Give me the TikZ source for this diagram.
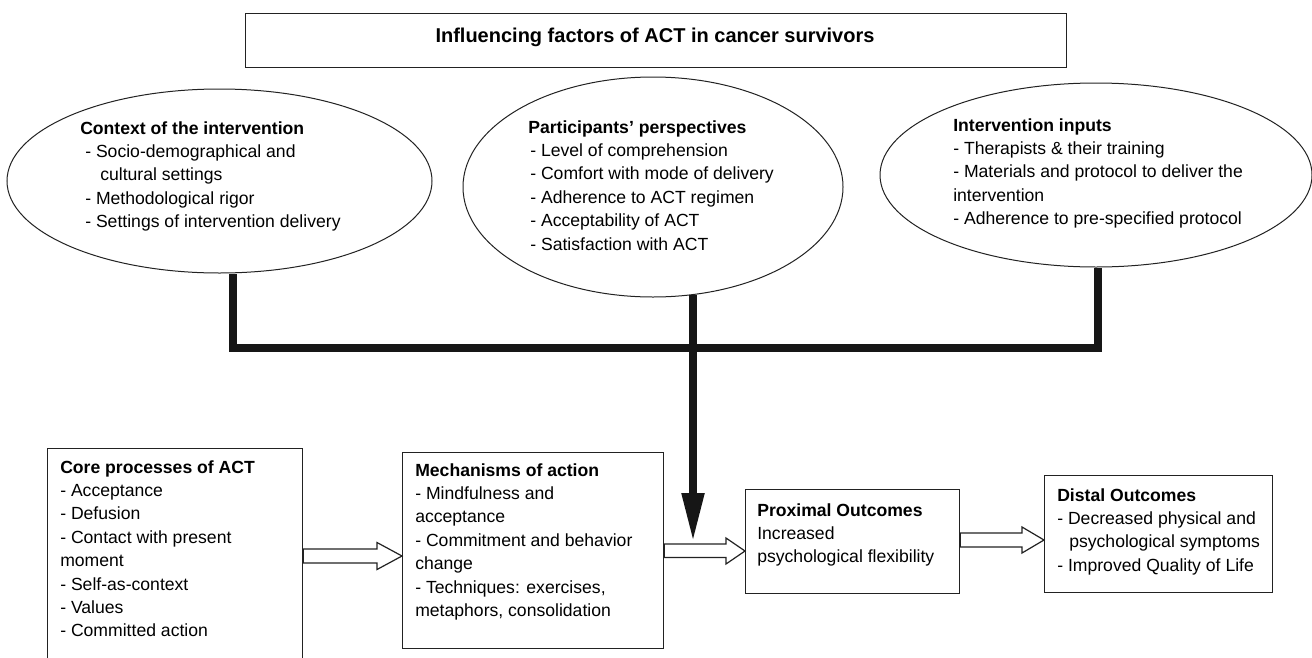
\documentclass[tikz,border=0pt]{standalone}
\usepackage{fontspec}
\setmainfont{Liberation Sans}
\usetikzlibrary{shapes.geometric,arrows.meta,calc}
\definecolor{ink}{HTML}{222222}
\definecolor{heavy}{HTML}{161616}
\newcommand{\bodyfont}{\fontsize{13.2}{17.55}\selectfont}
\newcommand{\titlefont}{\fontsize{15}{18}\selectfont\bfseries}
\newcommand{\ind}[1]{\hspace*{#1}}
\begin{document}
\begin{tikzpicture}[x=0.75pt,y=-0.75pt,
  box/.style={draw=ink, line width=0.9pt, inner sep=0, anchor=north west},
  oval/.style={ellipse, draw=ink, line width=0.75pt, inner sep=0},
  txt/.style={anchor=base west, inner sep=0, font=\bodyfont},
  heavyline/.style={draw=heavy, line width=6pt, line join=miter},
  blockarr/.style={draw=ink, line width=0.9pt, fill=white, line join=miter}]
\useasboundingbox (0,0) rectangle (1312,657);
\clip (0,0) rectangle (1312,657);
\fill[white] (0,0) rectangle (1312,657);

% title
\node[box, minimum width=615.75pt, minimum height=40.5pt] (tbox) at (245,13) {};
\node[anchor=base, inner sep=0, font=\titlefont] (ttl) at (655,42) {Influencing factors of ACT in cancer survivors};

% ellipses
\node[oval, minimum width=318.75pt, minimum height=138pt] (ctx) at (219.5,181) {};
\node[oval, minimum width=285pt, minimum height=165pt] (mid) at (653,187) {};
\node[oval, minimum width=324pt, minimum height=138pt] (inp) at (1096,175) {};

\node[txt] (ctxtext) at (80,134) {\begin{tabular}[t]{@{}l@{}}
\textbf{Context of the intervention}\\
\ind{3.75pt}- Socio-demographical and\\
\ind{15pt}cultural settings\\
\ind{3.75pt}- Methodological rigor\\
\ind{3.75pt}- Settings of intervention delivery
\end{tabular}};

\node[txt] (midtext) at (528,133) {\begin{tabular}[t]{@{}l@{}}
\textbf{Participants’ perspectives}\\
\ind{1.5pt}- Level of comprehension\\
\ind{1.5pt}- Comfort with mode of delivery\\
\ind{1.5pt}- Adherence to ACT regimen\\
\ind{1.5pt}- Acceptability of ACT\\
\ind{1.5pt}- Satisfaction with ACT
\end{tabular}};

\node[txt] (inptext) at (953,131) {\begin{tabular}[t]{@{}l@{}}
\textbf{Intervention inputs}\\
- Therapists \& their training\\
- Materials and protocol to deliver the\\
intervention\\
- Adherence to pre-specified protocol
\end{tabular}};

% boxes
\node[box, minimum width=191.25pt, minimum height=220pt] (core) at (47,448) {};
\node[box, minimum width=195.75pt, minimum height=147pt] (mech) at (402,452) {};
\node[box, minimum width=160.5pt, minimum height=78pt] (prox) at (745,489) {};
\node[box, minimum width=171pt, minimum height=87.75pt] (dist) at (1044,475) {};

\node[txt] (coretext) at (60,473) {\begin{tabular}[t]{@{}l@{}}
\textbf{Core processes of ACT}\\
- Acceptance\\
- Defusion\\
- Contact with present\\
moment\\
- Self-as-context\\
- Values\\
- Committed action
\end{tabular}};

\node[txt] (mechtext) at (415,476) {\begin{tabular}[t]{@{}l@{}}
\textbf{Mechanisms of action}\\
- Mindfulness and\\
acceptance\\
- Commitment and behavior\\
change\\
- Techniques: exercises,\\
metaphors, consolidation
\end{tabular}};

\node[txt] (proxtext) at (757,516) {\begin{tabular}[t]{@{}l@{}}
\textbf{Proximal Outcomes}\\
Increased\\
psychological flexibility
\end{tabular}};

\node[txt] (disttext) at (1057,501) {\begin{tabular}[t]{@{}l@{}}
\textbf{Distal Outcomes}\\
- Decreased physical and\\
\ind{9pt}psychological symptoms\\
- Improved Quality of Life
\end{tabular}};

% heavy connectors
\coordinate (jl) at (233,348);
\coordinate (jr) at (1098,348);
\coordinate (tip) at (693,542);
\draw[heavyline] (ctx.south -| jl) -- (jl) -- (jr) -- (inp.south -| jr);
\draw[heavyline, -{Triangle[length=36.75pt,width=15.75pt]}] (693,295) -- (tip);

% block arrows
\draw[blockarr] (core.east |- 0,549) -- (377,549) -- (377,542.5) -- (mech.west |- 0,556)
  -- (377,569.5) -- (377,563) -- (core.east |- 0,563) -- cycle;
\draw[blockarr] (mech.east |- 0,544) -- (726,544) -- (726,538) -- (prox.west |- 0,551)
  -- (726,564) -- (726,557.5) -- (mech.east |- 0,557.5) -- cycle;
\draw[blockarr] (prox.east |- 0,533) -- (1022,533) -- (1022,527) -- (dist.west |- 0,540)
  -- (1022,553) -- (1022,547) -- (prox.east |- 0,547) -- cycle;
\end{tikzpicture}
\end{document}
